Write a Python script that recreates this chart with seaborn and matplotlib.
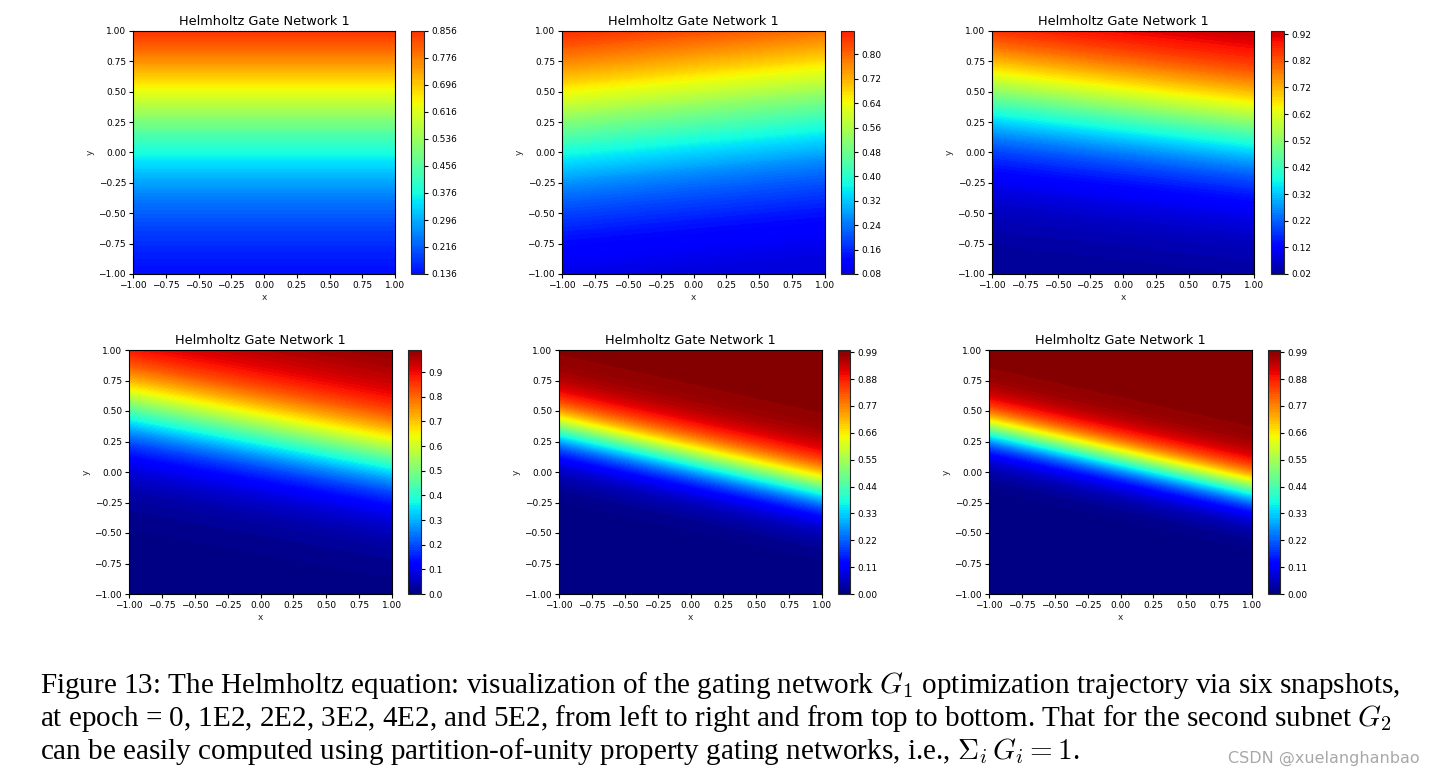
import numpy as np
import seaborn as sns
import matplotlib
matplotlib.use('Agg')
import matplotlib.pyplot as plt
from matplotlib.colors import Normalize

# =============================================================================
# Values
# =============================================================================
titles = ['Helmholtz Gate Network 1'] * 6

# gate output range per snapshot (colorbar ends)
gate_min = [0.136, 0.08, 0.02, 0.0, 0.0, 0.0]
gate_max = [0.856, 0.877, 0.932, 0.99, 0.999, 0.999]

# gate logit along u = y + tilt*x : logit = bias + slope*u + curv*u^2
tilt = [0.0, -0.1, 0.125, 0.2, 0.24, 0.24]
bias = [-0.49, -0.7, -1.1, -1.58, -0.98, -1.08]
slope = [1.815, 2.0, 3.0, 4.5, 7.5, 9.0]
curv = [0.455, 0.26, 0.3, 0.0, 0.0, 0.0]

cbar_ticks = [
    [0.136, 0.216, 0.296, 0.376, 0.456, 0.536, 0.616, 0.696, 0.776, 0.856],
    [0.08, 0.16, 0.24, 0.32, 0.40, 0.48, 0.56, 0.64, 0.72, 0.80],
    [0.02, 0.12, 0.22, 0.32, 0.42, 0.52, 0.62, 0.72, 0.82, 0.92],
    [0.0, 0.1, 0.2, 0.3, 0.4, 0.5, 0.6, 0.7, 0.8, 0.9],
    [0.00, 0.11, 0.22, 0.33, 0.44, 0.55, 0.66, 0.77, 0.88, 0.99],
    [0.00, 0.11, 0.22, 0.33, 0.44, 0.55, 0.66, 0.77, 0.88, 0.99],
]
cbar_fmt = ['%.3f', '%.2f', '%.2f', '%.1f', '%.2f', '%.2f']
xy_ticks = [-1.00, -0.75, -0.50, -0.25, 0.00, 0.25, 0.50, 0.75, 1.00]

caption = [
    r'Figure 13: The Helmholtz equation: visualization of the gating network $G_1$ optimization trajectory via six snapshots,',
    r'at epoch = 0, 1E2, 2E2, 3E2, 4E2, and 5E2, from left to right and from top to bottom. That for the second subnet $G_2$',
    r'can be easily computed using partition-of-unity property gating networks, i.e., $\Sigma_i\, G_i = 1$.',
]

# =============================================================================
# Layout (pixel boxes: left, right of axes / colorbar)
# =============================================================================
W, H = 1436, 781
ax_x = [(133, 395), (562, 825), (992, 1254), (129, 392), (559, 822), (989, 1252)]
cb_x = [(411, 424), (841, 854), (1271, 1284), (408, 421), (838, 850), (1268, 1280)]
row_y = [(31, 274), (31, 274), (31, 274), (350, 594), (350, 594), (350, 594)]

sns.set_theme(style='ticks')
plt.rcParams['font.family'] = ['DejaVu Sans']
plt.rcParams['mathtext.fontset'] = 'cm'
cmap = matplotlib.colormaps['jet']


def lab(v, fmt='%.2f'):
    return (fmt % v).replace('-', '\u2212')


fig = plt.figure(figsize=(W / 100, H / 100), dpi=100)

xs = np.linspace(-1, 1, 300)
X, Y = np.meshgrid(xs, xs)

for i in range(6):
    (l, r), (t, b) = ax_x[i], row_y[i]
    ax = fig.add_axes([l / W, (H - b) / H, (r - l) / W, (b - t) / H])
    cl, cr = cb_x[i]
    cax = fig.add_axes([cl / W, (H - b) / H, (cr - cl) / W, (b - t) / H])

    u = Y + tilt[i] * X
    z = 1 / (1 + np.exp(-(bias[i] + slope[i] * u + curv[i] * u ** 2)))
    z = np.clip(z, gate_min[i], gate_max[i])
    levels = np.linspace(gate_min[i], gate_max[i], 100)
    cs = ax.contourf(X, Y, z, levels=levels, cmap=cmap, norm=Normalize(0, 1))

    ax.set_xticks(xy_ticks)
    ax.set_yticks(xy_ticks)
    ax.set_xticklabels([lab(v) for v in xy_ticks])
    ax.set_yticklabels([lab(v) for v in xy_ticks])
    ax.tick_params(labelsize=6.5, length=3, width=0.8, pad=2, colors='black')
    ax.set_xlabel('x', fontsize=6.5, labelpad=2)
    ax.set_ylabel('y', fontsize=6.5, labelpad=3)
    ax.set_title(titles[i], fontsize=9.3, pad=4, color='black')
    for sp in ax.spines.values():
        sp.set_color('black')
        sp.set_linewidth(0.8)

    cb = fig.colorbar(cs, cax=cax, ticks=cbar_ticks[i])
    cb.ax.set_yticklabels([lab(v, cbar_fmt[i]) for v in cbar_ticks[i]])
    cb.ax.tick_params(labelsize=6.5, length=3, width=0.8, pad=2, colors='black')
    cb.outline.set_linewidth(0.8)

# caption
for k, line in enumerate(caption):
    fig.text(40 / W, 1 - (693 + 33 * k) / H, line, fontsize=21,
             family='Liberation Serif', ha='left', va='baseline', color='black')

fig.text(1420 / W, 1 - 763 / H, 'CSDN @xuelanghanbao', fontsize=11.5,
         color='#a8a8a8', ha='right', va='baseline')

fig.savefig('out.png', dpi=100)
